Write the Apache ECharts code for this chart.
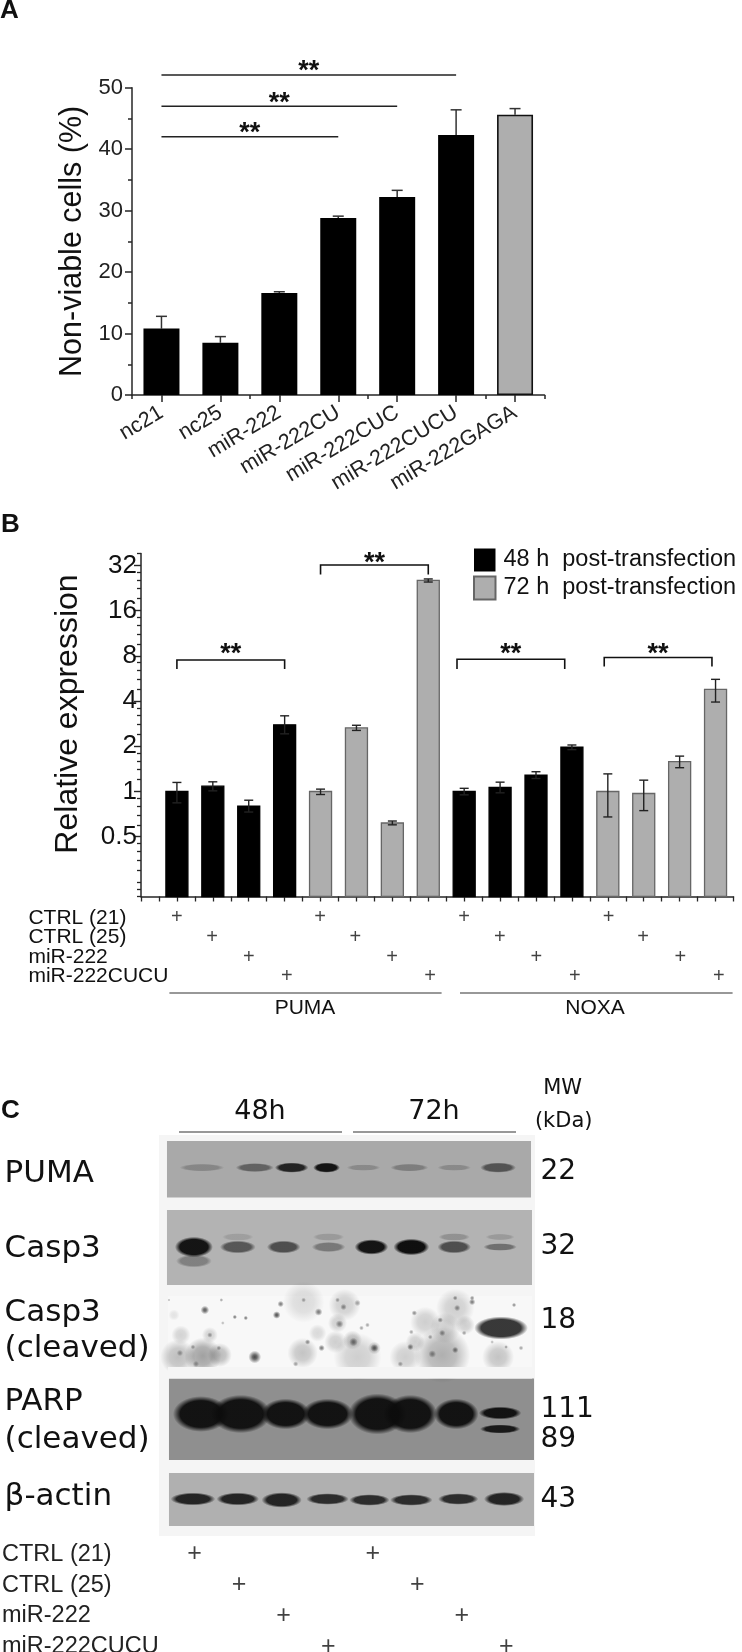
<!DOCTYPE html>
<html><head><meta charset="utf-8">
<style>html,body{margin:0;padding:0;background:#fff}#c{width:742px;height:1652px}</style>
<script src="https://cdn.jsdelivr.net/npm/echarts@6/dist/echarts.min.js"></script>
</head><body><div id="c"></div>
<script>
// ---------- Panel A ----------
const viabilityCategories = ['nc21','nc25','miR-222','miR-222CU','miR-222CUC','miR-222CUCU','miR-222GAGA'];
const viabilityValues = [10.8,8.5,16.6,28.8,32.2,42.3,45.6];
const viabilityErrorTops = [12.8,9.5,16.8,29.1,33.3,46.4,46.6];
const viabilitySigFrom = [0.05,0.07,0.08];
const viabilitySigTo = [5.03,4.01,2.99];
const viabilitySigLevel = [52.07,47.0,42.0];

// ---------- Panel B ----------
const expressionTicks = [0.5,1,2,4,8,16,32];
const expressionMinorTicks = [0.2,0.225,0.25,0.3,0.35,0.4,0.45,0.6,0.7,0.8,0.9,1.2,1.4,1.6,1.8,2.4,2.8,3.2,3.6,4.8,5.6,6.4,7.2,9.6,11.2,12.8,14.4,19.2,22.4,25.6,28.8,38.4];
const cols48 = [0,1,2,3,8,9,10,11];
const values48 = [1.0,1.085,0.80,2.78,1.0,1.063,1.286,1.97];
const highs48 = [1.149,1.16,0.875,3.19,1.05,1.154,1.354,2.04];
const lows48 = [0.84,1.01,0.73,2.42,0.95,0.98,1.22,1.9];
const cols72 = [4,5,6,7,12,13,14,15];
const values72 = [1.0,2.65,0.617,25.4,1.0,0.97,1.58,4.79];
const highs72 = [1.037,2.76,0.636,26.0,1.31,1.19,1.72,5.58];
const lows72 = [0.955,2.55,0.6,24.8,0.677,0.746,1.44,3.94];
const bracketFrom = [0,4,7.8,11.9];
const bracketTo = [3,7,10.8,14.9];
const bracketTop = [7.5,32.2,7.6,7.8];
const bracketFoot = [6.55,27.8,6.55,6.8];
const bracketStar = [8.2,32.8,8.2,8.2];
const treatmentRows = ['CTRL (21)','CTRL (25)','miR-222','miR-222CUCU'];
const expressionMarkCols = [0,0.98,2,3.06,3.99,4.97,5.99,7.05,8,8.99,10.01,11.08,12.02,12.98,14.02,15.09];
const expressionMarkRows = [0,1,2,3,0,1,2,3,0,1,2,3,0,1,2,3];
const blotMarkCols = [0,1,2,3,4,5,6,7];
const blotMarkRows = [0,1,2,3,0,1,2,3];

// ---------- Panel C (blot image content, in blot units) ----------
const blotFrames = [[8,6,373,62.5,'#a9a9a9'],[8,75,374,150,'#b3b3b3'],[9,161,374,232,'#f8f8f8'],[10,243.5,376,325,'#8f8f8f'],[10,338,376,391,'#b0b0b0']];
const blotGaps = [[9,232,374,243.5,'#f5f5f5']];
const pumaBands = [[43,32.6,20,3,.22],[96,32.6,17,3.5,.45],[133,32.6,15,4,.85],[168,32.6,12,4,.95],[205,32.6,15,2.5,.2],[251,32.6,17,3,.28],[296,32.6,15,2.5,.2],[340,32.6,16,4,.55]];
const casp3Bands = [[35,112,17,8,.95],[79,112,16,5,.55],[125,112,15,5,.6],[170,112,15,4,.35],[213,112,15,6,.95],[253,112,16,6.5,.98],[296,112,15,5,.6],[342,112,15,3,.4],[79,102,14,3,.12],[170,102,14,3,.15],[296,102,14,3,.2],[342,102,13,2.5,.15],[35,126,16,5,.3]];
const parpBands = [[42,279,25,14,.95],[82,279,27,15,.95],[127,279,22,12,.95],[169,279,23,12,.95],[219,279,26,16,.95],[252,279,24,15,.95],[298,279,20,12,.95],[342,278,19,5,.95],[342,294,18,3.5,.9]];
const actinBands = [[34,364,20,5,.85],[79,364,19,5,.85],[123,365,18,6,.85],[169,364,19,4.5,.8],[211,365,18,4.5,.8],[253,365,19,4.5,.8],[300,364,18,4.5,.8],[346,364,18,5.5,.85]];
const cleavedBand = [[343,193,24,9,.88]];
const cleavedHaze = [[19,222,11,.28],[44,221,11.5,.42],[61,220,7.5,.3],[22,200,6,.18],[51,200,5,.18],[15,180,3.5,.1],[145,167,13,.14],[144,218,9.5,.25],[159,198,5.5,.15],[179,188,6,.2],[177,207,7,.2],[194,205,6,.25],[199,222,15,.2],[186,170,10,.2],[216,213,4,.3],[247,222,10,.2],[284,220,17.5,.35],[257,207,6,.2],[267,187,9.5,.2],[287,193,9.5,.2],[297,173,12,.2],[307,190,6,.2],[340,222,10,.25]];
const cleavedSpots = [[46,175,2.7,.75],[96,222,4,.85],[118,180,2.4,.8],[122,169,2,.6],[76,182,1.4,.6],[87,183,1.4,.6],[160,177,2.4,.6],[185,172,2,.5],[199,168,2,.4],[181,189,2.4,.5],[195,207,2.7,.6],[216,213,2.4,.7],[163,213,2,.6],[149,207,1.7,.5],[252,212,2,.6],[282,185,1.7,.5],[299,173,2,.5],[314,167,2,.6],[297,215,2,.6],[274,219,2.4,.5],[256,178,1.7,.5],[356,170,1.4,.5],[51,200,1.7,.4],[242,229,1.7,.4],[37,229,2,.4],[137,229,1.7,.4],
  [10,165,1,.3],[62.5,165,1.2,.4],[145,165,1.5,.4],[179,165,1.5,.4],[297,163,1.5,.5],[314,163,1.5,.5],[209,190,1.5,.4],[203,193,1.5,.4],[306,198,1.5,.4],[253,197,1.5,.4],[272,202,1.5,.4],[284,198,2,.5],[21,218,2,.4],[34,212,1.5,.4],[60,213,1.5,.4],[64,188,1.2,.3],[348,212,1.2,.4],[363,213,1.5,.4],[334,207,1.2,.3]];
const panelLeftLabels = [['PUMA',1174],['Casp3',1249],['Casp3',1313],['(cleaved)',1349],['PARP',1402],['(cleaved)',1440],['β-actin',1497]];
const panelWeights = [['22',1172],['32',1247],['18',1321],['111',1410],['89',1440],['43',1500]];

const SANS = '"Liberation Sans", Arial, sans-serif';
const DEJAVU = '"DejaVu Sans", sans-serif';
const ink = '#262626';
const gray = '#aeaeae';

function barItem(cols, vals, highs, lows){
  return cols.map((c,i)=>[c,vals[i],highs[i],lows[i]]);
}
function renderBar(fill, stroke){
  return function(params, api){
    const x = api.value(0), v = api.value(1), hi = api.value(2), lo = api.value(3);
    const base = api.coord([x,0.2]), top = api.coord([x,v]), h = api.coord([x,hi]), l = api.coord([x,lo]);
    const w = 22, cap = 4.5;
    return {type:'group',children:[
      {type:'rect',shape:{x:base[0]-w/2,y:top[1],width:w,height:base[1]-top[1]},style:{fill:fill,stroke:stroke,lineWidth:1.3}},
      {type:'line',shape:{x1:h[0],y1:h[1],x2:l[0],y2:l[1]},style:{stroke:'#222',lineWidth:1.4}},
      {type:'line',shape:{x1:h[0]-cap,y1:h[1],x2:h[0]+cap,y2:h[1]},style:{stroke:'#222',lineWidth:1.4}},
      {type:'line',shape:{x1:l[0]-cap,y1:l[1],x2:l[0]+cap,y2:l[1]},style:{stroke:'#222',lineWidth:1.4}}
    ]};
  };
}
function stars(pt){
  return {type:'text',style:{text:'**',x:pt[0],y:pt[1],font:'bold 27px '+SANS,fill:'#111',align:'center',verticalAlign:'middle'}};
}
function rgba(c,a){return 'rgba('+c+','+a+')';}
function softEllipse(pt, rx, ry, a, color){
  const r = ry*1.28, sx = (rx*1.12)/r;
  return {type:'circle',x:pt[0],y:pt[1],scaleX:sx,scaleY:1,shape:{cx:0,cy:0,r:r},
    style:{fill:new echarts.graphic.RadialGradient(0.5,0.5,0.5,[
      {offset:0,color:rgba(color,a)},{offset:0.74,color:rgba(color,a)},{offset:1,color:rgba(color,0)}])}};
}
function softDot(pt, r, a, hold){
  return {type:'circle',shape:{cx:pt[0],cy:pt[1],r:r*1.6},
    style:{fill:new echarts.graphic.RadialGradient(0.5,0.5,0.5,[
      {offset:0,color:rgba('40,40,40',a)},{offset:hold,color:rgba('40,40,40',a*0.8)},{offset:1,color:rgba('40,40,40',0)}])}};
}
function blotCustom(list, render, z){
  return {type:'custom',xAxisIndex:4,yAxisIndex:4,silent:true,clip:false,z:z||3,data:list,renderItem:render};
}
function bandSeries(list, color){
  return blotCustom(list,(p,api)=>softEllipse(api.coord([api.value(0),api.value(1)]),api.value(2),api.value(3),api.value(4),color||'12,12,12'));
}
function spotSeries(list, hold){
  return blotCustom(list,(p,api)=>softDot(api.coord([api.value(0),api.value(1)]),api.value(2),api.value(3),hold));
}
function frameSeries(list, z){
  return blotCustom(list.map(f=>f.slice(0,4)),(p,api)=>{
    const a=api.coord([api.value(0),api.value(1)]),b=api.coord([api.value(2),api.value(3)]);
    return {type:'rect',shape:{x:a[0],y:a[1],width:b[0]-a[0],height:b[1]-a[1]},style:{fill:list[p.dataIndex][4]}};},z);
}
function markSeries(cols, rows, x, y, size){
  return {type:'scatter',xAxisIndex:x,yAxisIndex:y,symbolSize:0,silent:true,clip:false,
    data:cols.map((c,i)=>[c,rows[i]]),
    label:{show:true,position:'inside',formatter:'+',fontFamily:SANS,fontSize:size,color:'#111'}};
}
function txt(text,x,y,font,align,fill){
  return {type:'text',x:x,y:y,silent:true,style:{text:text,font:font,fill:fill||'#111',align:align||'left',verticalAlign:'middle'}};
}
function rule(x1,x2,y,color){
  return {type:'line',silent:true,shape:{x1:x1,y1:y,x2:x2,y2:y},style:{stroke:color||'#333',lineWidth:1.2}};
}

const chart = echarts.init(document.getElementById('c'),null,{renderer:'canvas'});
const axisLine = {show:true,onZero:false,lineStyle:{color:ink,width:1.5}};
const noAxis = {axisLine:{show:false},axisTick:{show:false},axisLabel:{show:false},splitLine:{show:false}};
const graphicEls = [
  txt('A',0,11,'bold 26px '+SANS), txt('B',1,525,'bold 26px '+SANS), txt('C',1,1111,'bold 26px '+SANS),
  rule(169.4,441.6,993), rule(460,732.6,993),
  txt('PUMA',305,1008,'21px '+SANS,'center'), txt('NOXA',595,1008,'21px '+SANS,'center'),
  txt('48h',260,1112,'27px '+DEJAVU,'center'), txt('72h',434,1112,'27px '+DEJAVU,'center'),
  rule(179,342,1132), rule(353,516,1132),
  txt('MW',562.6,1089,'21px '+DEJAVU,'center'), txt('(kDa)',563.7,1122,'21px '+DEJAVU,'center')
];
panelLeftLabels.forEach(l=>graphicEls.push(txt(l[0],4.6,l[1],'31px '+DEJAVU)));
panelWeights.forEach(l=>graphicEls.push(txt(l[0],540.4,l[1],'28px '+DEJAVU)));

chart.setOption({
  animation:false,
  backgroundColor:'#fff',
  textStyle:{fontFamily:SANS},
  grid:[
    {left:132,top:87.7,width:412.5,height:307.3,outerBoundsMode:'none'},      // A
    {left:141,top:553.5,width:592.5,height:343,outerBoundsMode:'none'},       // B
    {left:141,top:908,width:592.5,height:78.5,outerBoundsMode:'none'},        // B rows
    {left:159,top:1135,width:376,height:401,outerBoundsMode:'none'},          // C blots
    {left:159,top:1539.2,width:376,height:122.8,outerBoundsMode:'none'}       // C rows
  ],
  legend:{left:473,top:548,padding:0,orient:'vertical',itemWidth:21.5,itemHeight:23,itemGap:3.5,icon:'rect',
    data:['48 h  post-transfection','72 h  post-transfection'],selectedMode:false,
    textStyle:{fontSize:23.5,color:'#111',fontFamily:SANS,padding:[0,0,0,3]}},
  xAxis:[
    {gridIndex:0,type:'category',data:viabilityCategories,boundaryGap:true,
      axisLine:axisLine,axisTick:{show:true,alignWithLabel:true,length:7,lineStyle:{color:ink,width:1.5}},
      axisLabel:{interval:0,rotate:31,fontSize:21.5,color:'#222',margin:16,fontFamily:SANS}},
    {gridIndex:0,type:'category',data:viabilityCategories,boundaryGap:true,position:'bottom',
      axisLine:{show:false},axisTick:{show:true,alignWithLabel:false,length:4,lineStyle:{color:ink,width:1.5}},axisLabel:{show:false}},
    {gridIndex:1,type:'value',min:-1,max:15.5,interval:0.5,splitLine:{show:false},
      axisLine:axisLine,axisTick:{show:true,length:5,lineStyle:{color:ink,width:1.3}},axisLabel:{show:false}},
    Object.assign({gridIndex:2,type:'value',min:-1,max:15.5},noAxis),
    Object.assign({gridIndex:3,type:'value',min:0,max:377},noAxis),
    Object.assign({gridIndex:4,type:'value',min:-0.8,max:7.645},noAxis)
  ],
  yAxis:[
    {gridIndex:0,type:'value',min:0,max:50,interval:10,splitLine:{show:false},
      name:'Non-viable cells (%)',nameLocation:'middle',nameGap:40,nameRotate:90,
      nameTextStyle:{fontSize:30.5,color:'#111',fontFamily:SANS},
      axisLine:axisLine,axisTick:{show:true,length:7,lineStyle:{color:ink,width:1.5}},
      minorTick:{show:true,splitNumber:2,length:4,lineStyle:{color:ink,width:1.5}},minorSplitLine:{show:false},
      axisLabel:{fontSize:22,color:'#222',margin:9,fontFamily:SANS}},
    {gridIndex:1,type:'log',logBase:2,min:0.2,max:38.4,splitLine:{show:false},
      name:'Relative expression',nameLocation:'middle',nameGap:57,nameRotate:90,
      nameTextStyle:{fontSize:32,color:'#111',fontFamily:SANS,padding:[0,0,0,22]},
      axisLine:axisLine,
      axisTick:{show:true,length:7,customValues:expressionTicks,lineStyle:{color:ink,width:1.4}},
      axisLabel:{customValues:expressionTicks,formatter:v=>String(v),fontSize:26,color:'#111',margin:4,fontFamily:SANS}},
    {gridIndex:1,type:'log',logBase:2,min:0.2,max:38.4,position:'left',splitLine:{show:false},
      axisLine:{show:false,onZero:false},
      axisTick:{show:true,length:4,customValues:expressionMinorTicks,lineStyle:{color:ink,width:1.3}},
      axisLabel:{show:false}},
    {gridIndex:2,type:'category',inverse:true,data:treatmentRows,axisLine:{show:false},axisTick:{show:false},
      axisLabel:{align:'left',margin:112.6,fontSize:21,color:'#111',fontFamily:SANS,interval:0}},
    Object.assign({gridIndex:3,type:'value',inverse:true,min:0,max:401},noAxis),
    {gridIndex:4,type:'category',inverse:true,data:treatmentRows,axisLine:{show:false},axisTick:{show:false},
      axisLabel:{align:'left',margin:157,fontSize:23.5,color:'#222',fontFamily:SANS,interval:0}}
  ],
  graphic:graphicEls,
  series:[
    {type:'bar',xAxisIndex:0,yAxisIndex:0,barWidth:36,silent:true,
      data:viabilityValues.map((v,i)=>i===6
        ?{value:v,itemStyle:{color:gray,borderColor:'#111',borderWidth:1.6}}
        :{value:v,itemStyle:{color:'#000'}})},
    {type:'custom',xAxisIndex:0,yAxisIndex:0,silent:true,z:1,
      data:viabilityValues.map((v,i)=>[i,v,viabilityErrorTops[i]]),
      renderItem:(p,api)=>{const a=api.coord([api.value(0),api.value(1)]),b=api.coord([api.value(0),api.value(2)]);
        return {type:'group',children:[
          {type:'line',shape:{x1:a[0],y1:a[1],x2:b[0],y2:b[1]},style:{stroke:'#333',lineWidth:1.5}},
          {type:'line',shape:{x1:b[0]-5.5,y1:b[1],x2:b[0]+5.5,y2:b[1]},style:{stroke:'#333',lineWidth:1.5}}]};}},
    {type:'custom',xAxisIndex:0,yAxisIndex:0,silent:true,clip:false,
      data:viabilitySigFrom.map((f,i)=>[f,viabilitySigTo[i],viabilitySigLevel[i]]),
      renderItem:(p,api)=>{const a=api.coord([api.value(0),api.value(2)]),b=api.coord([api.value(1),api.value(2)]);
        return {type:'group',children:[
          {type:'line',shape:{x1:a[0],y1:a[1],x2:b[0],y2:b[1]},style:{stroke:'#222',lineWidth:1.5}},
          stars([(a[0]+b[0])/2,a[1]-3])]};}},
    {name:'48 h  post-transfection',type:'custom',xAxisIndex:2,yAxisIndex:1,clip:false,silent:true,
      itemStyle:{color:'#000',borderColor:'#000'},
      data:barItem(cols48,values48,highs48,lows48),renderItem:renderBar('#000','#000')},
    {name:'72 h  post-transfection',type:'custom',xAxisIndex:2,yAxisIndex:1,clip:false,silent:true,
      itemStyle:{color:gray,borderColor:'#666',borderWidth:1.3},
      data:barItem(cols72,values72,highs72,lows72),renderItem:renderBar(gray,'#666')},
    {type:'custom',xAxisIndex:2,yAxisIndex:1,silent:true,clip:false,
      data:bracketFrom.map((f,i)=>[f,bracketTo[i],bracketTop[i],bracketFoot[i],bracketStar[i]]),
      renderItem:(p,api)=>{const a=api.coord([api.value(0),api.value(2)]),b=api.coord([api.value(1),api.value(2)]),
          af=api.coord([api.value(0),api.value(3)]),s=api.coord([(api.value(0)+api.value(1))/2,api.value(4)]);
        return {type:'group',children:[
          {type:'polyline',shape:{points:[[af[0],af[1]],a,b,[b[0],af[1]]]},style:{stroke:'#111',fill:null,lineWidth:1.6}},
          stars(s)]};}},
    markSeries(expressionMarkCols,expressionMarkRows,3,3,20),
    markSeries(blotMarkCols,blotMarkRows,5,5,25),
    blotCustom([[0,0,377,401]],(p,api)=>{const a=api.coord([0,0]),b=api.coord([377,401]);
        return {type:'rect',shape:{x:a[0],y:a[1],width:b[0]-a[0],height:b[1]-a[1]},style:{fill:'#f5f5f5'}};},1),
    frameSeries(blotFrames,2),
    spotSeries(cleavedHaze,0.5),
    spotSeries(cleavedSpots,0.35),
    frameSeries(blotGaps,3),
    bandSeries(pumaBands),
    bandSeries(casp3Bands),
    bandSeries(cleavedBand,'30,30,30'),
    bandSeries(parpBands),
    bandSeries(actinBands)
  ]
});
</script></body></html>
